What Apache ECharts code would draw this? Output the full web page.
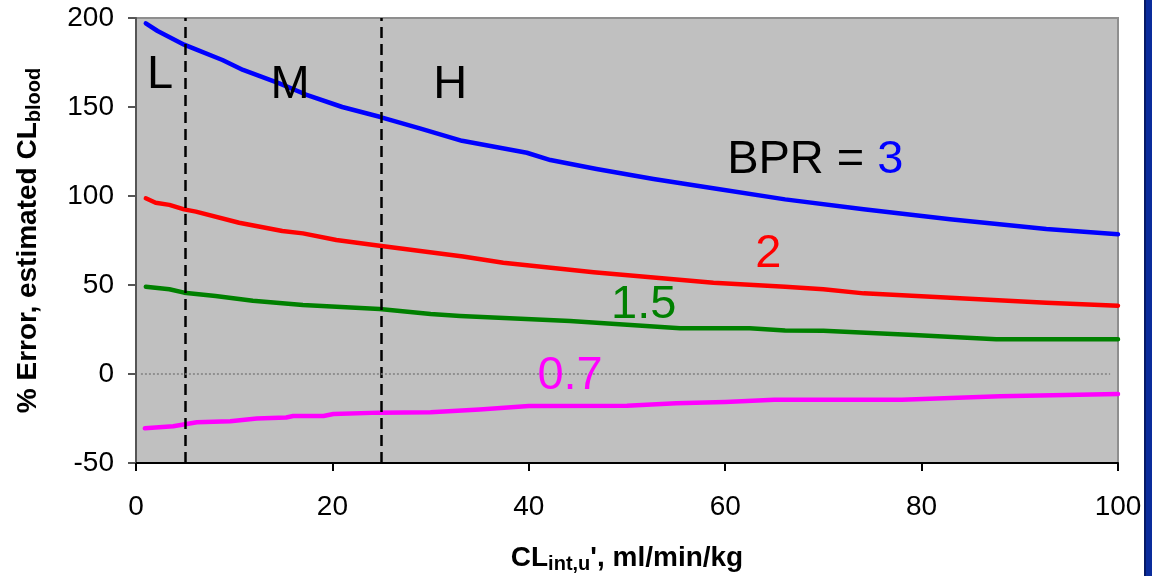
<!DOCTYPE html>
<html>
<head>
<meta charset="utf-8">
<script src="https://cdn.jsdelivr.net/npm/echarts@6/dist/echarts.min.js"></script>
<style>
  html, body { margin: 0; padding: 0; background: #fff; }
  #chart { width: 1152px; height: 576px; }
</style>
</head>
<body>
<div id="chart"></div>
<script>
// % error in estimated blood clearance vs unbound intrinsic clearance, per blood/plasma ratio
const bpr3 = [[1,197],[2.2,192.7],[4.9,185],[6.1,182.4],[8.8,176.4],[10.9,170.8],[14.6,163.3],[17.3,157],[21,150],[24.8,144.5],[28.9,138],[33.2,131],[39.8,124.3],[42.2,120.2],[46.9,115.2],[52.7,109.6],[59.1,104.1],[66.1,98.1],[74.1,92.5],[82.9,86.9],[92.7,81.5],[100,78.5]];
const bpr2 = [[1,98.7],[2,96.2],[3.4,95],[4.9,92.5],[6.1,91.2],[10.5,85],[14.9,80.3],[17,79],[20.4,75.3],[24.8,72],[33.3,66],[37.4,62.5],[46.6,57.1],[58.8,51.3],[66.1,49],[70,47.6],[74.1,45.3],[92.7,40],[100,38.4]];
const bpr15 = [[1,49],[3.4,47.6],[4.9,45.7],[8.1,43.8],[11.9,41.2],[17,38.8],[24.8,36.5],[30,33.7],[33,32.6],[44.2,29.8],[55.4,25.7],[62.5,25.7],[66.1,24.5],[70,24.3],[79.2,21.9],[87.6,19.5],[100,19.5]];
const bpr07 = [[0.9,-30.5],[3.8,-29.4],[6.2,-27.1],[9.6,-26.5],[12.3,-25],[15.3,-24.4],[16,-23.6],[19.1,-23.6],[20.1,-22.5],[24.8,-21.7],[30,-21.5],[35,-20],[40,-18],[50,-17.8],[55,-16.5],[60,-15.8],[65,-14.5],[78,-14.4],[88,-12.5],[100,-11.2]];

// Low / medium / high clearance boundaries
const regionBounds = [5, 25];
const xTicks = { min: 0, max: 100, interval: 20 };
const yTicks = { min: -50, max: 200, interval: 50 };

// In-plot annotations in data coordinates
const annotations = [
  { x: 2.45, y: 168, text: 'L', color: '#000', align: 'center' },
  { x: 15.7, y: 162.4, text: 'M', color: '#000', align: 'center' },
  { x: 32, y: 162.4, text: 'H', color: '#000', align: 'center' },
  { x: 60.2, y: 120.2, text: '{k|BPR = }{b|3}', color: '#000', align: 'left' },
  { x: 64.4, y: 67.4, text: '2', color: '#ff0000', align: 'center' },
  { x: 51.7, y: 38.8, text: '1.5', color: '#008000', align: 'center' },
  { x: 44.2, y: -1.1, text: '0.7', color: '#ff00ff', align: 'center' }
];

const FONT = '"Liberation Sans", Arial, sans-serif';

const chart = echarts.init(document.getElementById('chart'), null, { renderer: 'canvas' });

function lineSeries(name, data, color, extra) {
  return Object.assign({
    name, type: 'line', data, symbol: 'none', smooth: false,
    lineStyle: { color, width: 4.5, cap: 'round', join: 'round' },
    z: 3, animation: false
  }, extra || {});
}

const sideBar = [
  { type: 'rect', left: 1145, top: 0, shape: { width: 7, height: 576 }, style: { fill: '#0a2c9c' }, z: 10 },
  { type: 'rect', left: 1144, top: 0, shape: { width: 2, height: 576 }, style: { fill: '#061a66' }, z: 11 }
];

chart.setOption({
  animation: false,
  textStyle: { fontFamily: FONT },
  grid: {
    left: 136, right: 34, top: 18, bottom: 113,
    outerBoundsMode: 'none', containLabel: false,
    show: true, backgroundColor: '#c0c0c0', borderColor: '#8e8e8e', borderWidth: 2
  },
  xAxis: {
    type: 'value', min: xTicks.min, max: xTicks.max, interval: xTicks.interval,
    name: '{b|CL}{s|int,u}{b|\', ml/min/kg}',
    nameLocation: 'middle', nameGap: 80,
    nameTextStyle: {
      rich: {
        b: { fontFamily: FONT, fontWeight: 'bold', fontSize: 28, color: '#000' },
        s: { fontFamily: FONT, fontWeight: 'bold', fontSize: 20, color: '#000', padding: [11, 0, 0, 0] }
      }
    },
    axisLine: { show: true, onZero: false, lineStyle: { color: '#000', width: 2 } },
    axisTick: { show: true, length: 8, lineStyle: { color: '#000', width: 2 } },
    axisLabel: { fontSize: 28, color: '#000', margin: 30, fontFamily: FONT },
    splitLine: { show: false }
  },
  yAxis: {
    type: 'value', min: yTicks.min, max: yTicks.max, interval: yTicks.interval,
    name: '{b|% Error, estimated CL}{s|blood}',
    nameLocation: 'middle', nameGap: 92, nameRotate: 90,
    nameTextStyle: {
      rich: {
        b: { fontFamily: FONT, fontWeight: 'bold', fontSize: 28, color: '#000' },
        s: { fontFamily: FONT, fontWeight: 'bold', fontSize: 20, color: '#000', padding: [11, 0, 0, 0] }
      }
    },
    axisLine: { show: true, lineStyle: { color: '#555', width: 2 } },
    axisTick: { show: true, length: 8, lineStyle: { color: '#555', width: 2 } },
    axisLabel: { fontSize: 28, color: '#000', margin: 22, fontFamily: FONT },
    splitLine: { show: false }
  },
  series: [
    lineSeries('BPR 3', bpr3, '#0000ff', {
      markLine: {
        silent: true, symbol: 'none', animation: false,
        label: { show: false },
        lineStyle: { color: '#000', width: 2.5, type: [11, 6] },
        data: regionBounds.map(v => ({ xAxis: v }))
      }
    }),
    lineSeries('BPR 2', bpr2, '#ff0000'),
    lineSeries('BPR 1.5', bpr15, '#008000', {
      markLine: {
        silent: true, symbol: 'none', animation: false,
        label: { show: false },
        lineStyle: { color: '#808080', width: 1.5, type: [2, 2] },
        data: [[{ coord: [0.5, 0] }, { coord: [99.2, 0] }]]
      }
    }),
    lineSeries('BPR 0.7', bpr07, '#ff00ff')
  ],
  graphic: sideBar
});

// Place annotations through the chart's own coordinate system
const texts = annotations.map(a => {
  const p = chart.convertToPixel({ gridIndex: 0 }, [a.x, a.y]);
  return {
    type: 'text', x: p[0], y: p[1], z: 20,
    style: {
      text: a.text, fill: a.color, font: '47px ' + FONT,
      align: a.align, verticalAlign: 'middle',
      rich: {
        k: { fill: '#000', font: '47px ' + FONT },
        b: { fill: '#0000ff', font: '47px ' + FONT }
      }
    }
  };
});
chart.setOption({ graphic: texts.concat(sideBar) }, { replaceMerge: ['graphic'] });
</script>
</body>
</html>
